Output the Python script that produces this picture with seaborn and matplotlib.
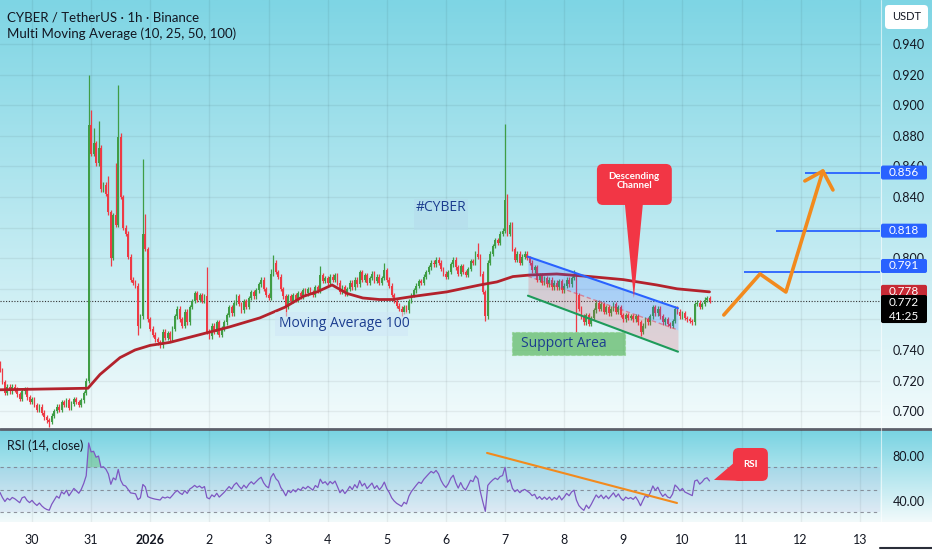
import numpy as np
import pandas as pd
import matplotlib
matplotlib.use("Agg")
import matplotlib.pyplot as plt
import seaborn as sns
from matplotlib.patches import Rectangle, Polygon, FancyBboxPatch

sns.set_theme(style="white")
plt.rcParams['font.family'] = ['Lato', 'DejaVu Sans']

# ---- data: CYBER/USDT 1h closes, first candle Dec 29 11:00 (hours relative to Dec 30 00:00)
first_hour = -13
first_open = 0.731
closes = [
    # Dec 29 11:00 - 23:00
    0.727, 0.719, 0.712, 0.716, 0.713, 0.716, 0.714, 0.711, 0.708, 0.713, 0.714, 0.709, 0.706,
    # Dec 30
    0.708, 0.704, 0.701, 0.703, 0.699, 0.696, 0.694, 0.693, 0.697, 0.700, 0.703, 0.701,
    0.706, 0.704, 0.707, 0.702, 0.705, 0.708, 0.706, 0.704, 0.707, 0.712, 0.720, 0.887,
    # Dec 31
    0.868, 0.875, 0.862, 0.872, 0.845, 0.848, 0.842, 0.830, 0.800, 0.828, 0.822, 0.879,
    0.840, 0.820, 0.816, 0.801, 0.786, 0.784, 0.782, 0.756, 0.762, 0.816, 0.806, 0.760,
    # Jan 1
    0.754, 0.750, 0.747, 0.745, 0.743, 0.752, 0.748, 0.751, 0.747, 0.754, 0.762, 0.767,
    0.760, 0.756, 0.765, 0.758, 0.768, 0.772, 0.777, 0.773, 0.776, 0.772, 0.775, 0.752,
    # Jan 2
    0.749, 0.756, 0.752, 0.758, 0.750, 0.754, 0.758, 0.763, 0.768, 0.764, 0.771, 0.775,
    0.770, 0.766, 0.772, 0.768, 0.774, 0.778, 0.775, 0.779, 0.783, 0.786, 0.780, 0.776,
    # Jan 3
    0.774, 0.790, 0.797, 0.791, 0.788, 0.780, 0.775, 0.768, 0.775, 0.772, 0.776, 0.773,
    0.777, 0.775, 0.779, 0.777, 0.780, 0.778, 0.776, 0.781, 0.779, 0.789, 0.785, 0.787,
    # Jan 4
    0.784, 0.788, 0.786, 0.789, 0.784, 0.778, 0.781, 0.777, 0.780, 0.784, 0.781, 0.786,
    0.783, 0.791, 0.786, 0.789, 0.784, 0.787, 0.790, 0.785, 0.788, 0.784, 0.787, 0.792,
    # Jan 5
    0.786, 0.782, 0.776, 0.772, 0.769, 0.767, 0.765, 0.768, 0.766, 0.772, 0.776, 0.779,
    0.782, 0.785, 0.784, 0.788, 0.791, 0.794, 0.797, 0.796, 0.799, 0.797, 0.793, 0.790,
    # Jan 6
    0.788, 0.791, 0.796, 0.799, 0.794, 0.790, 0.795, 0.791, 0.789, 0.793, 0.798, 0.797,
    0.803, 0.801, 0.790, 0.778, 0.762, 0.797, 0.803, 0.808, 0.812, 0.810, 0.816, 0.818,
    # Jan 7
    0.838, 0.816, 0.822, 0.806, 0.799, 0.803, 0.797, 0.801, 0.803, 0.800, 0.797, 0.792,
    0.794, 0.786, 0.789, 0.784, 0.787, 0.783, 0.786, 0.781, 0.784, 0.781, 0.785, 0.779,
    # Jan 8
    0.782, 0.786, 0.783, 0.787, 0.789, 0.776, 0.767, 0.762, 0.758, 0.763, 0.757, 0.761,
    0.766, 0.771, 0.767, 0.770, 0.765, 0.768, 0.764, 0.767, 0.770, 0.765, 0.768, 0.763,
    # Jan 9
    0.760, 0.763, 0.761, 0.762, 0.760, 0.762, 0.758, 0.752, 0.756, 0.760, 0.758, 0.762,
    0.768, 0.764, 0.767, 0.762, 0.758, 0.760, 0.757, 0.756, 0.759, 0.767, 0.765, 0.762,
    # Jan 10 00:00 - 11:00
    0.764, 0.761, 0.760, 0.759, 0.758, 0.770, 0.771, 0.768, 0.770, 0.773, 0.774, 0.772,
]
# long wicks (hour: price)
wick_highs = {23: 0.920, 24: 0.897, 25: 0.885, 27: 0.890, 28: 0.874, 31: 0.854, 34: 0.862,
              35: 0.913, 36: 0.882, 45: 0.865, 46: 0.829, 71: 0.794, 97: 0.793, 98: 0.802,
              117: 0.795, 143: 0.797, 181: 0.810, 192: 0.888, 193: 0.842, 220: 0.792}
wick_lows = {7: 0.690, 32: 0.795, 43: 0.750, 103: 0.762, 150: 0.762, 184: 0.759,
             221: 0.752, 247: 0.749}
wick_pad = 0.0015

# Moving Average 100
ma_hours = [-13, 22.7, 27.6, 35.7, 41.8, 47.9, 56, 68, 80, 92.5, 102.7, 110, 115.7, 121.8,
            127.8, 134.3, 141, 146.5, 154.6, 168.4, 181.8, 188.7, 195.2, 202, 213, 226.5,
            240, 253.6, 261.8, 275]
ma_values = [0.714, 0.715, 0.724, 0.735, 0.740, 0.743, 0.745, 0.750, 0.755, 0.761, 0.768,
             0.775, 0.778, 0.7825, 0.777, 0.774, 0.773, 0.773, 0.775, 0.778, 0.7825, 0.7845,
             0.788, 0.789, 0.7897, 0.788, 0.786, 0.7825, 0.780, 0.778]

rsi_seed = 0.003  # assumed average hourly move before the visible window

day_labels = ['30', '31', '2026', '2', '3', '4', '5', '6', '7', '8', '9', '10', '11', '12', '13']
day_hours = [24 * i for i in range(len(day_labels))]
price_ticks = [0.700, 0.720, 0.740, 0.760, 0.780, 0.800, 0.820, 0.840, 0.860, 0.880, 0.900, 0.920, 0.940]
hidden_ticks = [0.760, 0.780, 0.820]  # sit under the price tags

# drawings
channel_h = [201.3, 262.2]
channel_upper = [0.8010, 0.7673]
channel_lower = [0.7755, 0.7389]
target_levels = [0.791, 0.818, 0.856]
target_start = [289, 302, 313.7]
path_h = [280.8, 295.5, 306.0, 321.0]
path_p = [0.7629, 0.7897, 0.7779, 0.857]
barb_h = [313.7, 321.0, 325.1]
barb_p = [0.8505, 0.857, 0.8446]
rsi_trend_h = [184.7, 261.8]
rsi_trend_v = [82.7, 38.2]

# ---- derived OHLC
hours = np.arange(first_hour, first_hour + len(closes))
df = pd.DataFrame({'hour': hours, 'close': closes})
df['open'] = np.r_[first_open, df['close'].values[:-1]]
df['high'] = df[['open', 'close']].max(axis=1) + wick_pad
df['low'] = df[['open', 'close']].min(axis=1) - wick_pad
for h, v in wick_highs.items():
    df.loc[df.hour == h, 'high'] = v
for h, v in wick_lows.items():
    df.loc[df.hour == h, 'low'] = v
df['up'] = df['close'] >= df['open']

# RSI 14 (Wilder)
g = l = rsi_seed
rsi = []
for d in np.diff(np.r_[first_open, closes]):
    g = (g * 13 + max(d, 0)) / 14
    l = (l * 13 + max(-d, 0)) / 14
    rsi.append(100 - 100 / (1 + g / l))
df['rsi'] = rsi

GREEN, RED = '#3f9d45', '#ee3a45'
W, H = 932, 550
fig = plt.figure(figsize=(W / 100, H / 100), dpi=100)

# background with gradients (pixel coords)
ax_bg = fig.add_axes([0, 0, 1, 1], zorder=0)
ax_bg.set_xlim(0, W)
ax_bg.set_ylim(H, 0)
ax_bg.axis('off')


def gradient(c0, c1, n=256):
    c0, c1 = np.array(c0) / 255, np.array(c1) / 255
    t = np.linspace(0, 1, n)[:, None]
    return (c0 + (c1 - c0) * t)[:, None, :]


ax_bg.add_patch(Rectangle((0, 0), W, H, color='white', zorder=0))
ax_bg.imshow(gradient((126, 213, 228), (243, 251, 252)), extent=[0, W, 428, 0], aspect='auto', zorder=1)
ax_bg.imshow(gradient((120, 211, 226), (242, 250, 251)), extent=[0, W, 522, 430], aspect='auto', zorder=1)
ax_bg.plot([0, W], [429, 429], color='#5d606b', lw=2, zorder=2)
ax_bg.plot([881, 881], [0, 522], color='white', lw=0.8, alpha=0.6, zorder=2)
ax_bg.plot([880, W], [548, 548], color='#2a2e39', lw=1.5, zorder=2)

# main price panel
ax = fig.add_axes([0, 1 - 428 / H, 880 / W, 428 / H], zorder=1)
ax.patch.set_alpha(0)
ax.set_xlim(-12.99, 344.2)
ax.set_ylim(0.68902, 0.96876)
for s in ax.spines.values():
    s.set_visible(False)
ax.set_xticks(day_hours)
ax.set_xticklabels([])
ax.set_yticks(price_ticks)
ax.set_yticklabels(['' if p in hidden_ticks else f'{p:.3f}' for p in price_ticks])
ax.yaxis.tick_right()
ax.tick_params(axis='y', length=0, pad=9, labelsize=9, labelcolor='#131722')
ax.tick_params(axis='x', length=0)
ax.grid(True, color='black', alpha=0.06, lw=1)

colors = np.where(df['up'], GREEN, RED)
ax.vlines(df['hour'], df['low'], df['high'], colors=colors, lw=0.9, zorder=3)
body = np.maximum((df['close'] - df['open']).abs(), 0.0007)
ax.bar(df['hour'], body, bottom=df[['open', 'close']].min(axis=1), width=0.72,
       color=colors, linewidth=0, zorder=3)

sns.lineplot(x=ma_hours, y=ma_values, ax=ax, color='#b3222c', lw=2, zorder=4)
ax.axhline(closes[-1], color='#333333', lw=0.8, ls=(0, (1, 1.5)), zorder=2)

# descending channel
mid = [(u + lo) / 2 for u, lo in zip(channel_upper, channel_lower)]
ax.fill_between(channel_h, mid, channel_upper, color='#2962ff', alpha=0.22, lw=0, zorder=5)
ax.fill_between(channel_h, channel_lower, mid, color='#f23645', alpha=0.18, lw=0, zorder=5)
ax.plot(channel_h, mid, color='#f23645', alpha=0.5, lw=1, ls=(0, (3, 2)), zorder=6)
ax.plot(channel_h, channel_upper, color='#2962ff', lw=1.5, zorder=6)
ax.plot(channel_h, channel_lower, color='#1e9b5a', lw=1.5, zorder=6)

# targets & projected path
ax.hlines(target_levels, target_start, ax.get_xlim()[1], color='#2962ff', lw=1.3, zorder=6)
ax.plot(path_h, path_p, color='#f28a1d', lw=2.6, solid_capstyle='round',
        solid_joinstyle='round', zorder=7)
ax.plot(barb_h, barb_p, color='#f28a1d', lw=2.6, solid_capstyle='round',
        solid_joinstyle='round', zorder=7)

# text labels
ax.add_patch(Rectangle((98.6, 0.7491), 54, 0.0157, color='#cfe6f7', alpha=0.55, lw=0, zorder=5))
ax.text(100.3, 0.7570, 'Moving Average 100', color='#1b3d8f', fontsize=10, va='center',
        family=['Open Sans', 'DejaVu Sans'], zorder=6)
ax.add_patch(Rectangle((155, 0.8184), 22, 0.0203, color='#b5dcec', alpha=0.6, lw=0, zorder=5))
ax.text(165.8, 0.8330, '#CYBER', color='#1b3d8f', fontsize=10, ha='center', va='center',
        family=['Open Sans', 'DejaVu Sans'], zorder=6)
ax.add_patch(Rectangle((194.8, 0.7367), 45.9, 0.0151, facecolor='#5cb860', alpha=0.7,
                       edgecolor='#8fd18f', ls='--', lw=0.8, zorder=5))
ax.text(198.5, 0.7442, 'Support Area', color='#1b3d8f', fontsize=10, va='center',
        family=['Open Sans', 'DejaVu Sans'], zorder=6)

# RSI panel
ax_r = fig.add_axes([0, 1 - 522 / H, 880 / W, 92 / H], zorder=1)
ax_r.patch.set_alpha(0)
ax_r.set_xlim(ax.get_xlim())
ax_r.set_ylim(21.3, 103.1)
for s in ax_r.spines.values():
    s.set_visible(False)
ax_r.axhspan(30, 70, color='#7e57c2', alpha=0.07, lw=0)
for lvl in (30, 50, 70):
    ax_r.axhline(lvl, color='#787b86', lw=0.8, ls=(0, (3, 3)), alpha=0.8)
ax_r.fill_between(df['hour'], 70, df['rsi'], where=df['rsi'] > 70, interpolate=True,
                  color='#4caf50', alpha=0.35, lw=0)
ax_r.fill_between(df['hour'], 30, df['rsi'], where=df['rsi'] < 30, interpolate=True,
                  color='#f23645', alpha=0.3, lw=0)
sns.lineplot(data=df, x='hour', y='rsi', ax=ax_r, color='#7e57c2', lw=0.9)
ax_r.plot(rsi_trend_h, rsi_trend_v, color='#f28a1d', lw=1.5)
ax_r.set_xlabel('')
ax_r.set_ylabel('')
ax_r.set_yticks([40, 80])
ax_r.set_yticklabels(['40.00', '80.00'])
ax_r.yaxis.tick_right()
ax_r.tick_params(axis='y', length=0, pad=9, labelsize=9, labelcolor='#131722')
ax_r.set_xticks(day_hours)
ax_r.set_xticklabels(day_labels)
ax_r.tick_params(axis='x', length=0, pad=9, labelsize=9, labelcolor='#131722')
ax_r.get_xticklabels()[2].set_fontweight('bold')
ax_r.grid(True, axis='x', color='black', alpha=0.06, lw=1)
ax_r.grid(False, axis='y')

# overlay for tags & callouts (pixel coords)
ax_top = fig.add_axes([0, 0, 1, 1], zorder=5)
ax_top.set_xlim(0, W)
ax_top.set_ylim(H, 0)
ax_top.axis('off')


def to_px(axis, x, y):
    return ax_top.transData.inverted().transform(axis.transData.transform((x, y)))


def rounded(x0, y0, x1, y1, color, r=4, **kw):
    ax_top.add_patch(FancyBboxPatch((x0, min(y0, y1)), x1 - x0, abs(y1 - y0),
                                    boxstyle=f'round,pad=0,rounding_size={r}',
                                    facecolor=color, edgecolor='none', **kw))


def callout_box(axis, box, tip):
    (bx0, by0), (bx1, by1) = to_px(axis, box[0], box[3]), to_px(axis, box[1], box[2])
    tx, ty = to_px(axis, *tip)
    rounded(bx0, by0, bx1, by1, '#f23645', r=6)
    return bx0, by0, bx1, by1, tx, ty


bx0, by0, bx1, by1, tx, ty = callout_box(ax, (229.3, 259.7, 0.8348, 0.8616), (244.3, 0.7740))
ax_top.add_patch(Polygon([(tx - 9, by1 - 1), (tx + 9, by1 - 1), (tx, ty)], color='#f23645', lw=0))
ax_top.text((bx0 + bx1) / 2, by0 + 17, 'Descending\nChannel', color='white', fontsize=7,
            fontweight='bold', ha='center', va='center', linespacing=1.0)

bx0, by0, bx1, by1, tx, ty = callout_box(ax_r, (284.5, 298.7, 57.8, 87.1), (276.8, 58.7))
ax_top.add_patch(Polygon([(bx0 + 2, by0 + 14), (tx, ty), (bx0 + 10, by1)], color='#f23645', lw=0))
ax_top.text((bx0 + bx1) / 2, (by0 + by1) / 2, 'RSI', color='white', fontsize=7,
            fontweight='bold', ha='center', va='center')

# header texts
ax_top.text(7, 17, 'CYBER / TetherUS · 1h · Binance', fontsize=9.5, color='#131722', va='center')
ax_top.text(7, 34, 'Multi Moving Average (10, 25, 50, 100)', fontsize=9.5, color='#131722', va='center')
ax_top.text(7, 446, 'RSI (14, close)', fontsize=9, color='#131722', va='center')

# price tags on the right scale
rounded(885, 5, 928, 29, 'white', r=4)
ax_top.text(906.5, 17, 'USDT', fontsize=8, color='#131722', ha='center', va='center')
tags = [(0.856, '#2962ff', 0), (0.818, '#2962ff', 0), (0.791, '#2962ff', -6),
        (ma_values[-1], '#c62a35', 0)]
for val, col, shift in tags:
    y = to_px(ax, 0, val)[1] + shift
    rounded(881, y - 7, 927, y + 7, col, r=2)
    ax_top.text(904, y, f'{val:.3f}', color='white', fontsize=8.5, ha='center', va='center')
y = to_px(ax, 0, closes[-1])[1]
rounded(881, y - 6, 927, y + 22, 'black', r=2)
ax_top.text(904, y + 1, f'{closes[-1]:.3f}', color='white', fontsize=8.5, ha='center', va='center')
ax_top.text(904, y + 15, '41:25', color='white', fontsize=8.5, ha='center', va='center')

fig.savefig('out.png', dpi=100)
